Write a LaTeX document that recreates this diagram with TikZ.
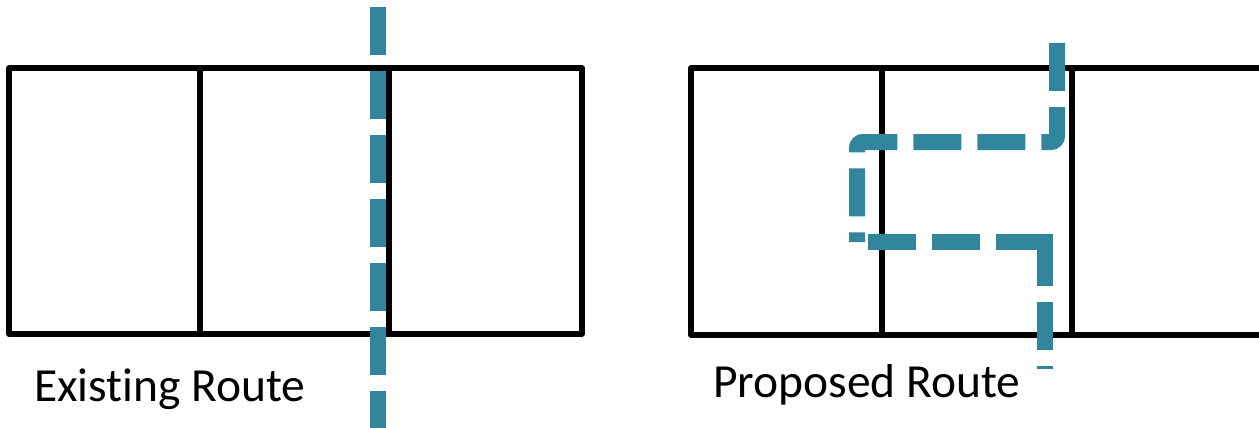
\documentclass[tikz,border=0pt]{standalone}
\usepackage{fontspec}
\setmainfont{Carlito}[Ligatures={NoCommon}]
\definecolor{routeteal}{HTML}{31859C}
\begin{document}
\begin{tikzpicture}[x=1pt,y=-1pt,
  wall/.style={draw=black,line width=5.5pt,line join=round},
  route/.style={draw=routeteal,line width=16pt,dash pattern=on 48pt off 16pt},
  caption/.style={anchor=base west,inner sep=0pt,font=\fontsize{47.5}{56}\selectfont}]
\useasboundingbox (0,0) rectangle (1259,428);
% existing layout
\draw[wall] (9,68) rectangle (582,334);
\draw[wall] (200,68) -- (200,334);
\draw[wall] (389,68) -- (389,334);
% proposed layout
\draw[wall] (691,68) rectangle (1264,335);
\draw[wall] (882,68) -- (882,335);
\draw[wall] (1072,68) -- (1072,335);
% existing route
\coordinate (e1) at (378,7);
\coordinate (e2) at (378,440);
\draw[route] (e1) -- (e2);
% proposed route
\coordinate (p1) at (1057,43);
\coordinate (p2) at (1057,142);
\coordinate (p3) at (857,142);
\coordinate (p4) at (857,242);
\coordinate (q1) at (868,242);
\coordinate (q2) at (1053,242);
\coordinate (r1) at (1045,238);
\coordinate (r2) at (1045,369);
\draw[route,rounded corners=6pt] (p1) -- (p2) -- (p3) -- (p4);
\draw[route,dash pattern=on 48pt off 16pt on 48pt off 16pt on 57pt off 16pt] (q1) -- (q2);
\draw[route] (r1) -- (r2);
% captions
\node[caption] (cap1) at (34,401) {Existing Route};
\node[caption] (cap2) at (713,397) {Proposed Route};
\end{tikzpicture}
\end{document}
